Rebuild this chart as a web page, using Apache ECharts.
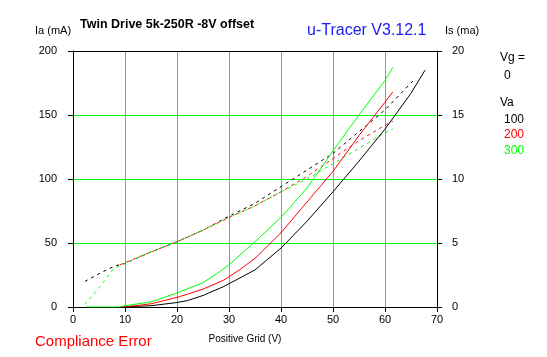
<!DOCTYPE html>
<html><head><meta charset="utf-8">
<script src="https://cdn.jsdelivr.net/npm/echarts@6/dist/echarts.min.js"></script>
<style>html,body{margin:0;padding:0;background:#fff}#c{width:547px;height:357px}</style>
</head><body><div id="c"></div>
<script>
// Ia (mA) solid curves, [Vg, Ia]
var iaVa100 = [[9,0],[15,1],[20,3.5],[22,5],[25,9],[29,16],[35,29],[40,46],[45,67],[50,90],[55,114],[60,139],[65,167],[67.7,185]];
var iaVa200 = [[9,0],[12,1],[15,2.5],[20,7.5],[22,10],[25,14],[29,21],[32,29],[35,38],[40,58],[45,82],[50,106],[55,134],[60,160],[61.5,168]];
var iaVa300 = [[2.4,0],[9,0],[10,1],[15,4],[20,11],[25,19],[28,27],[30,33],[35,51],[40,70],[45,93],[50,122],[55,150],[60,177],[61.5,187]];
// Is (mA) dashed curves, [Vg, Is]
var isVa100 = [[2.3,2.0],[5,2.6],[8,3.2],[10,3.4],[15,4.3],[20,5.1],[25,6.0],[30,7.1],[35,8.1],[40,9.4],[45,10.7],[50,12.0],[55,13.7],[60,15.4],[65.7,17.8]];
var isVa200 = [[9,3.3],[15,4.3],[20,5.1],[25,6.0],[30,7.0],[35,7.9],[40,9.0],[45,10.2],[50,11.6],[55,13.0],[60,14.2],[61.5,14.5]];
var isVa300 = [[2.3,0.2],[5,1.5],[7.8,3.0],[10,3.4],[15,4.3],[20,5.1],[25,6.0],[30,7.0],[35,7.9],[40,9.0],[45,10.0],[50,11.2],[55,12.4],[60,13.6],[61.5,13.9]];
var vaLabels = ['100','200','300'];
var colors = ['#000000','#ff0000','#00ff00'];

var font = 'Liberation Sans';
var chart = echarts.init(document.getElementById('c'), null, {renderer:'canvas'});
function solid(d,c){return {type:'line',data:d,xAxisIndex:0,yAxisIndex:0,symbol:'none',lineStyle:{color:c,width:1},silent:true,z:3};}
function dashed(d,c){return {type:'line',data:d,xAxisIndex:0,yAxisIndex:1,symbol:'none',lineStyle:{color:c,width:1,type:[3,4]},silent:true,z:3};}
var axisText = {color:'#000',fontFamily:font,fontSize:11};
function green(){return {show:true,showMinLine:false,showMaxLine:false,lineStyle:{color:'#00ff00',width:1,type:'solid',opacity:1}};}
chart.setOption({
  animation:false,
  grid:{left:73,width:364,top:51,height:256,containLabel:false},
  xAxis:[{type:'value',min:0,max:70,interval:10,position:'bottom',
    axisLine:{show:true,onZero:false,lineStyle:{color:'#000',width:1}},
    axisTick:{show:true,length:5,lineStyle:{color:'#000'}},
    axisLabel:Object.assign({margin:7},axisText),
    splitLine:green(),
    name:'Positive Grid (V)',nameLocation:'middle',nameGap:27,nameTextStyle:{color:'#000',fontFamily:font,fontSize:10,padding:[0,20,0,0]}},
   {type:'value',min:0,max:70,interval:10,position:'top',
    axisLine:{show:true,onZero:false,lineStyle:{color:'#000',width:1}},
    axisTick:{show:false},axisLabel:{show:false},splitLine:{show:false}}],
  yAxis:[{type:'value',min:0,max:200,interval:50,position:'left',
    axisLine:{show:true,onZero:false,lineStyle:{color:'#000',width:1}},
    axisTick:{show:true,length:5,lineStyle:{color:'#000'}},
    axisLabel:Object.assign({margin:16},axisText),
    splitLine:green()},
   {type:'value',min:0,max:20,interval:5,position:'right',
    axisLine:{show:true,onZero:false,lineStyle:{color:'#000',width:1}},
    axisTick:{show:true,length:5,lineStyle:{color:'#000'}},
    axisLabel:Object.assign({margin:15},axisText),
    splitLine:{show:false}}],
  series:[
    dashed(isVa100,colors[0]),dashed(isVa200,colors[1]),dashed(isVa300,colors[2]),
    solid(iaVa100,colors[0]),solid(iaVa200,colors[1]),solid(iaVa300,colors[2])
  ],
  graphic:[
    {type:'text',left:35,top:25,style:{text:'Ia (mA)',fill:'#000',font:'11px '+font}},
    {type:'text',left:80,top:18,style:{text:'Twin Drive 5k-250R -8V offset',fill:'#000',font:'bold 12.5px '+font}},
    {type:'text',left:307,top:23,style:{text:'u-Tracer V3.12.1',fill:'#2020f0',font:'16px '+font}},
    {type:'text',left:445,top:25,style:{text:'Is (ma)',fill:'#000',font:'11px '+font}},
    {type:'text',left:500,top:52,style:{text:'Vg =',fill:'#000',font:'12px '+font}},
    {type:'text',left:504,top:70,style:{text:'0',fill:'#000',font:'12px '+font}},
    {type:'text',left:500,top:97,style:{text:'Va',fill:'#000',font:'12px '+font}},
    {type:'text',left:504,top:114,style:{text:vaLabels[0],fill:colors[0],font:'12px '+font}},
    {type:'text',left:504,top:129,style:{text:vaLabels[1],fill:colors[1],font:'12px '+font}},
    {type:'text',left:504,top:145,style:{text:vaLabels[2],fill:colors[2],font:'12px '+font}},
    {type:'text',left:35,top:334,style:{text:'Compliance Error',fill:'#ff0000',font:'15px '+font}}
  ]
});
</script></body></html>
